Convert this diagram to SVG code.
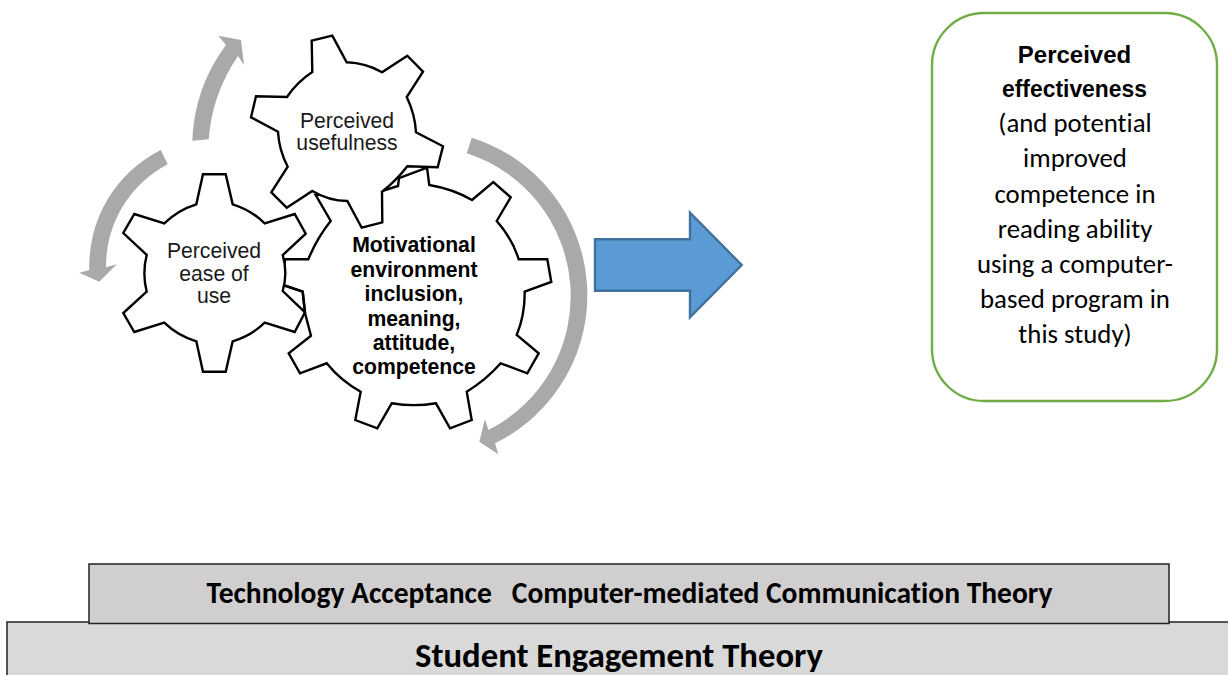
<svg xmlns="http://www.w3.org/2000/svg" width="1228" height="675" viewBox="0 0 1228 675">
<style>
.gear{fill:#fff;stroke:#000;stroke-width:2.4;stroke-linejoin:miter}
.frag{fill:none;stroke:#000;stroke-width:2.4}
.arc{fill:#a9a9a9}
.t{font-family:"Liberation Sans",Arial,sans-serif;font-size:21.200px;text-anchor:middle;fill:#1a1a1a}
.b{font-weight:700;fill:#000}
.c{font-family:Carlito,"Open Sans","Noto Sans",sans-serif;text-anchor:middle;fill:#000;font-variant-ligatures:none}
</style>
<rect width="1228" height="675" fill="#fff"/>
<g id="connectors">
<path class="arc" d="M192.300 140.700A170 170 0 0 1 226 45L218.300 35.700L241 40L244 65L238 56A170 170 0 0 0 208.700 139.300Z"/>
<path class="arc" d="M160.700 150A130 130 0 0 0 89.300 270L79.300 272.700L99.300 281.700L116.700 264.300L106 267.300A115 115 0 0 1 167.700 164.300Z"/>
<path class="arc" d="M471.700 137.700A165 165 0 0 1 495 443.300L498.300 454.300L479.300 441.700L485 419L488.300 430A150 150 0 0 0 466.700 153.300Z"/>
</g>
<g id="gear-motivation">
<path class="gear" d="M315.700 195L382 191L398 186L399 178L427 167.700L429.300 185Q453 189 472 200L493.300 182L510.700 197.300L496.700 221Q512 238 518.700 259.300L547.300 259.300L551.300 282L524.700 291.700Q525 315 516.700 335L538.700 353.300L527.300 373.300L500.700 363.300Q486 380 466.700 391.700L471.700 420L450 428.300L436 403.300Q414 407 391.700 403.300L377.300 428.300L355.300 420L360.700 391.700Q341 381 326.700 363.300L300 373.300L288.700 353.300L311 335.700L305 313L302.700 291.700L283 285L285 259.300L308.300 259.300Q317 238 330.700 221Z"/>
</g>
<g id="gear-usefulness">
<path class="gear" d="M311.700 40.700L332.300 35.700L346.700 62.300Q366 63 382 72.300L407.300 55.700L423 71.700L406.700 97Q415 114 416 132.300L443 146.300L437.700 167.300L407.300 166.300Q396 181 382 191.700L382.300 222.300L361.700 227.700L347.300 201Q329 201 312.300 191L286.700 207.700L271.300 192.300L287.700 166.700Q279 150 278 131.700L251 117.300L256 96.300L287 97Q297 82 312.300 72Z"/>
</g>
<g id="gear-ease">
<path class="gear" d="M203 174.300L225.700 174.300L232.700 204.300Q251 210 264.700 223.300L294.700 214L305.700 233.700L282.700 255Q288 273 282.700 291L305 312.300L294.700 332L264.700 322.700Q251 336 232.700 341.300L225.700 371.700L203 371.700L196.300 341.300Q178 336 164.300 322.700L134.300 332L123.300 313L146.700 291.700Q142 273 146.700 255L123.300 233L134.300 214L164.300 223.300Q178 210 196.300 204.300Z"/>
<path class="frag" d="M283 285L302.700 291.700L305 313"/>
</g>
<g id="arrow-main">
<path d="M595 239.300H690V212.700L741.700 265L690 317.300V290.700H595Z" fill="#5b9bd5" stroke="#41719c" stroke-width="2.400"/>
</g>
<text class="t" x="347" y="127.500">Perceived</text>
<text class="t" x="347" y="149.500">usefulness</text>
<text class="t" x="214" y="257.500">Perceived</text>
<text class="t" x="214" y="280.500">ease of</text>
<text class="t" x="214" y="302.500">use</text>
<g class="t b">
<text x="414" y="251.500">Motivational</text>
<text x="414" y="276.500">environment</text>
<text x="414" y="300.500">inclusion,</text>
<text x="414" y="325.500">meaning,</text>
<text x="414" y="349.500">attitude,</text>
<text x="414" y="373.500">competence</text>
</g>
<g id="node-effectiveness">
<rect x="932" y="13" width="285" height="388" rx="52" fill="#fff" stroke="#70ad47" stroke-width="2.400"/>
<text class="t b" x="1074.500" y="63" style="font-size:24px">Perceived</text>
<text class="t b" x="1074.500" y="97" style="font-size:24px" textLength="145" lengthAdjust="spacingAndGlyphs">effectiveness</text>
<g class="c" font-size="26.800">
<text x="1075" y="132">(and potential</text>
<text x="1075" y="167">improved</text>
<text x="1075" y="203">competence in</text>
<text x="1075" y="238">reading ability</text>
<text x="1075" y="273">using a computer-</text>
<text x="1075" y="308">based program in</text>
<text x="1075" y="343">this study)</text>
</g>
</g>
<g id="node-student">
<rect x="7" y="622" width="1230" height="70" fill="#d9d9d9" stroke="#222" stroke-width="1.500"/>
<text class="c" x="619" y="667" font-size="34.700" font-weight="700">Student Engagement Theory</text>
</g>
<g id="node-theories">
<rect x="89" y="564" width="1080" height="59.500" fill="#d0cece" stroke="#222" stroke-width="1.500"/>
<text class="c" x="629.500" y="603" font-size="29.500" font-weight="700" xml:space="preserve">Technology Acceptance   Computer-mediated Communication Theory</text>
</g>
</svg>
